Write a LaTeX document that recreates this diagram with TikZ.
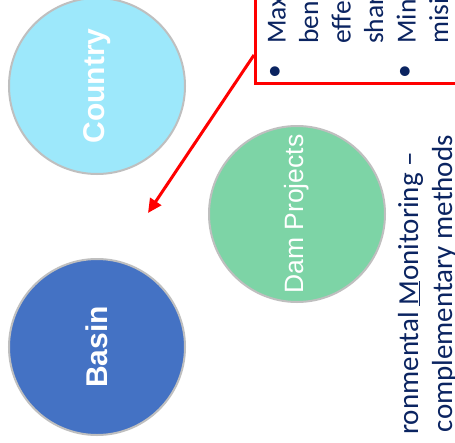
\documentclass[tikz,border=0pt]{standalone}
\usepackage{fontspec}
\setmainfont{Carlito}
\newfontfamily\arialfont{Liberation Sans}
\usetikzlibrary{arrows.meta}
\definecolor{navy}{HTML}{0B2461}
\definecolor{countryc}{HTML}{9DE8FB}
\definecolor{damc}{HTML}{7DD4A6}
\definecolor{basinc}{HTML}{4472C4}
\definecolor{rimc}{HTML}{BFBFBF}
\begin{document}
\begin{tikzpicture}[x=1pt,y=-1pt,
  circ/.style={circle, draw=rimc, line width=2pt, minimum size=176pt, inner sep=0pt, text=white, rotate=90},
  boxtxt/.style={rotate=90, anchor=base west, inner sep=0pt, text=navy, font=\fontsize{27.5}{32}\selectfont},
  bul/.style={rotate=90, anchor=base, inner sep=0pt, text=navy, font=\fontsize{27.5}{32}\selectfont},
  bigtxt/.style={rotate=90, anchor=base east, inner sep=0pt, text=navy, font=\fontsize{29}{34}\selectfont},
  redline/.style={draw=red, line width=3pt}
]
\useasboundingbox (0,0) rectangle (455,442);
\clip (0,0) rectangle (455,442);
\fill[white] (0,0) rectangle (455,442);

% circles
\node[circ, fill=countryc, font=\arialfont\bfseries\fontsize{30}{34}\selectfont] (country) at (97,86) {Country};
\node[circ, fill=damc, font=\arialfont\fontsize{26.5}{30}\selectfont] (dam) at (297,214) {Dam Projects};
\node[circ, fill=basinc, font=\arialfont\bfseries\fontsize{30}{34}\selectfont] (basin) at (97,347) {Basin};

% red box
\node[redline, anchor=south west, minimum width=260pt, minimum height=160pt, inner sep=0pt] (box) at (254,85) {};
\path (box.south west) ++(0,-30) coordinate (astart);
\coordinate (tip) at (148,213);
\draw[redline, -{Triangle[length=14pt, width=13pt]}] (astart) -- (tip);

% box text
\node[bul] (b1) at (282.5,72) {•};
\node[bul] (b2) at (412.5,72) {•};
\node[boxtxt] (t1) at (285.5,44) {Max};
\node[boxtxt] (t2) at (318,44) {bene};
\node[boxtxt] (t3) at (350.5,44) {effec};
\node[boxtxt] (t4) at (383,44) {shar};
\node[boxtxt] (t5) at (415.5,44) {Mini};
\node[boxtxt] (t6) at (448,44) {misi};

% bottom-right title
\node[bigtxt] (l1) at (418,152) {ronmental \underline{M}onitoring –};
\node[bigtxt] (l2) at (452,135) {complementary methods};
\end{tikzpicture}
\end{document}
